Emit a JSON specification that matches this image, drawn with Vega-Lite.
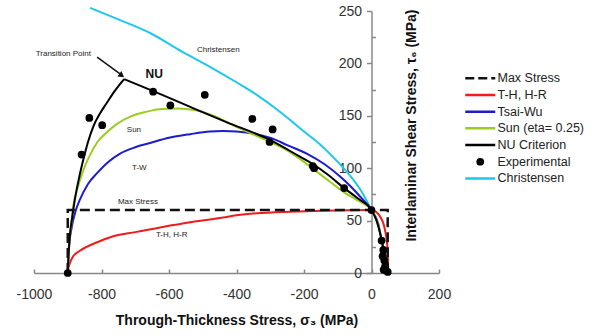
{
  "$schema": "https://vega.github.io/schema/vega-lite/v6.json",
  "width": 405,
  "height": 262,
  "autosize": "none",
  "padding": {"left": 34, "top": 11, "right": 159, "bottom": 62},
  "config": {"view": {"stroke": null}, "font": "Liberation Sans"},
  "datasets": {
    "curves": [
      {"series": "Christensen", "part": 1, "o": 1, "x": -834, "y": 253},
      {"series": "Christensen", "part": 1, "o": 2, "x": -750, "y": 242},
      {"series": "Christensen", "part": 1, "o": 3, "x": -656, "y": 229},
      {"series": "Christensen", "part": 1, "o": 4, "x": -560, "y": 211},
      {"series": "Christensen", "part": 1, "o": 5, "x": -480, "y": 197},
      {"series": "Christensen", "part": 1, "o": 6, "x": -400, "y": 182},
      {"series": "Christensen", "part": 1, "o": 7, "x": -340, "y": 170},
      {"series": "Christensen", "part": 1, "o": 8, "x": -280, "y": 156},
      {"series": "Christensen", "part": 1, "o": 9, "x": -241, "y": 146},
      {"series": "Christensen", "part": 1, "o": 10, "x": -200, "y": 135},
      {"series": "Christensen", "part": 1, "o": 11, "x": -150, "y": 122},
      {"series": "Christensen", "part": 1, "o": 12, "x": -100, "y": 106},
      {"series": "Christensen", "part": 1, "o": 13, "x": -64, "y": 93},
      {"series": "Christensen", "part": 1, "o": 14, "x": -30, "y": 78},
      {"series": "Christensen", "part": 1, "o": 15, "x": 0, "y": 60},

      {"series": "T-H, H-R", "part": 1, "o": 1, "x": -900, "y": 0},
      {"series": "T-H, H-R", "part": 1, "o": 2, "x": -899, "y": 3},
      {"series": "T-H, H-R", "part": 1, "o": 3, "x": -893, "y": 10},
      {"series": "T-H, H-R", "part": 1, "o": 4, "x": -884, "y": 16},
      {"series": "T-H, H-R", "part": 1, "o": 5, "x": -865, "y": 21},
      {"series": "T-H, H-R", "part": 1, "o": 6, "x": -844, "y": 25},
      {"series": "T-H, H-R", "part": 1, "o": 7, "x": -800, "y": 31},
      {"series": "T-H, H-R", "part": 1, "o": 8, "x": -765, "y": 35},
      {"series": "T-H, H-R", "part": 1, "o": 9, "x": -700, "y": 39},
      {"series": "T-H, H-R", "part": 1, "o": 10, "x": -666, "y": 41},
      {"series": "T-H, H-R", "part": 1, "o": 11, "x": -600, "y": 45},
      {"series": "T-H, H-R", "part": 1, "o": 12, "x": -537, "y": 48.5},
      {"series": "T-H, H-R", "part": 1, "o": 13, "x": -479, "y": 51},
      {"series": "T-H, H-R", "part": 1, "o": 14, "x": -439, "y": 53},
      {"series": "T-H, H-R", "part": 1, "o": 15, "x": -400, "y": 55},
      {"series": "T-H, H-R", "part": 1, "o": 16, "x": -340, "y": 57},
      {"series": "T-H, H-R", "part": 1, "o": 17, "x": -241, "y": 58.5},
      {"series": "T-H, H-R", "part": 1, "o": 18, "x": -143, "y": 59.4},
      {"series": "T-H, H-R", "part": 1, "o": 19, "x": 0, "y": 60},
      {"series": "T-H, H-R", "part": 1, "o": 20, "x": 25, "y": 54},
      {"series": "T-H, H-R", "part": 1, "o": 21, "x": 40, "y": 41},
      {"series": "T-H, H-R", "part": 1, "o": 22, "x": 47, "y": 25},
      {"series": "T-H, H-R", "part": 1, "o": 23, "x": 49, "y": 10},
      {"series": "T-H, H-R", "part": 1, "o": 24, "x": 50, "y": 0},

      {"series": "Tsai-Wu", "part": 1, "o": 1, "x": -900, "y": 0},
      {"series": "Tsai-Wu", "part": 1, "o": 2, "x": -898, "y": 19},
      {"series": "Tsai-Wu", "part": 1, "o": 3, "x": -888, "y": 44},
      {"series": "Tsai-Wu", "part": 1, "o": 4, "x": -876, "y": 60},
      {"series": "Tsai-Wu", "part": 1, "o": 5, "x": -864, "y": 70},
      {"series": "Tsai-Wu", "part": 1, "o": 6, "x": -840, "y": 85},
      {"series": "Tsai-Wu", "part": 1, "o": 7, "x": -814, "y": 95},
      {"series": "Tsai-Wu", "part": 1, "o": 8, "x": -780, "y": 106},
      {"series": "Tsai-Wu", "part": 1, "o": 9, "x": -745, "y": 114},
      {"series": "Tsai-Wu", "part": 1, "o": 10, "x": -700, "y": 120},
      {"series": "Tsai-Wu", "part": 1, "o": 11, "x": -656, "y": 124},
      {"series": "Tsai-Wu", "part": 1, "o": 12, "x": -600, "y": 129},
      {"series": "Tsai-Wu", "part": 1, "o": 13, "x": -537, "y": 132.5},
      {"series": "Tsai-Wu", "part": 1, "o": 14, "x": -479, "y": 135},
      {"series": "Tsai-Wu", "part": 1, "o": 15, "x": -439, "y": 135.5},
      {"series": "Tsai-Wu", "part": 1, "o": 16, "x": -400, "y": 135},
      {"series": "Tsai-Wu", "part": 1, "o": 17, "x": -360, "y": 133.5},
      {"series": "Tsai-Wu", "part": 1, "o": 18, "x": -330, "y": 131.5},
      {"series": "Tsai-Wu", "part": 1, "o": 19, "x": -291, "y": 128},
      {"series": "Tsai-Wu", "part": 1, "o": 20, "x": -250, "y": 122},
      {"series": "Tsai-Wu", "part": 1, "o": 21, "x": -192, "y": 114},
      {"series": "Tsai-Wu", "part": 1, "o": 22, "x": -140, "y": 104},
      {"series": "Tsai-Wu", "part": 1, "o": 23, "x": -93, "y": 92},
      {"series": "Tsai-Wu", "part": 1, "o": 24, "x": -60, "y": 82},
      {"series": "Tsai-Wu", "part": 1, "o": 25, "x": -34, "y": 73},
      {"series": "Tsai-Wu", "part": 1, "o": 26, "x": 0, "y": 60},
      {"series": "Tsai-Wu", "part": 1, "o": 27, "x": 20, "y": 47},
      {"series": "Tsai-Wu", "part": 1, "o": 28, "x": 30, "y": 31},
      {"series": "Tsai-Wu", "part": 1, "o": 29, "x": 40, "y": 16},
      {"series": "Tsai-Wu", "part": 1, "o": 30, "x": 47, "y": 2},

      {"series": "Sun (eta= 0.25)", "part": 1, "o": 1, "x": -900, "y": 0},
      {"series": "Sun (eta= 0.25)", "part": 1, "o": 2, "x": -896, "y": 25},
      {"series": "Sun (eta= 0.25)", "part": 1, "o": 3, "x": -890, "y": 45},
      {"series": "Sun (eta= 0.25)", "part": 1, "o": 4, "x": -884, "y": 63},
      {"series": "Sun (eta= 0.25)", "part": 1, "o": 5, "x": -870, "y": 82},
      {"series": "Sun (eta= 0.25)", "part": 1, "o": 6, "x": -854, "y": 98},
      {"series": "Sun (eta= 0.25)", "part": 1, "o": 7, "x": -835, "y": 112},
      {"series": "Sun (eta= 0.25)", "part": 1, "o": 8, "x": -814, "y": 124},
      {"series": "Sun (eta= 0.25)", "part": 1, "o": 9, "x": -785, "y": 134},
      {"series": "Sun (eta= 0.25)", "part": 1, "o": 10, "x": -755, "y": 142},
      {"series": "Sun (eta= 0.25)", "part": 1, "o": 11, "x": -710, "y": 150},
      {"series": "Sun (eta= 0.25)", "part": 1, "o": 12, "x": -666, "y": 154},
      {"series": "Sun (eta= 0.25)", "part": 1, "o": 13, "x": -620, "y": 156.5},
      {"series": "Sun (eta= 0.25)", "part": 1, "o": 14, "x": -577, "y": 157},
      {"series": "Sun (eta= 0.25)", "part": 1, "o": 15, "x": -518, "y": 155},
      {"series": "Sun (eta= 0.25)", "part": 1, "o": 16, "x": -469, "y": 150},
      {"series": "Sun (eta= 0.25)", "part": 1, "o": 17, "x": -410, "y": 141},
      {"series": "Sun (eta= 0.25)", "part": 1, "o": 18, "x": -321, "y": 128},
      {"series": "Sun (eta= 0.25)", "part": 1, "o": 19, "x": -250, "y": 117},
      {"series": "Sun (eta= 0.25)", "part": 1, "o": 20, "x": -200, "y": 106},
      {"series": "Sun (eta= 0.25)", "part": 1, "o": 21, "x": -143, "y": 92},
      {"series": "Sun (eta= 0.25)", "part": 1, "o": 22, "x": -81, "y": 77},
      {"series": "Sun (eta= 0.25)", "part": 1, "o": 23, "x": -40, "y": 69},
      {"series": "Sun (eta= 0.25)", "part": 1, "o": 24, "x": 0, "y": 60},
      {"series": "Sun (eta= 0.25)", "part": 1, "o": 25, "x": 18, "y": 48},
      {"series": "Sun (eta= 0.25)", "part": 1, "o": 26, "x": 30, "y": 32},
      {"series": "Sun (eta= 0.25)", "part": 1, "o": 27, "x": 40, "y": 17},
      {"series": "Sun (eta= 0.25)", "part": 1, "o": 28, "x": 47, "y": 3},

      {"series": "NU Criterion", "part": 1, "o": 1, "x": -900, "y": 0},
      {"series": "NU Criterion", "part": 1, "o": 2, "x": -897, "y": 20},
      {"series": "NU Criterion", "part": 1, "o": 3, "x": -893, "y": 38},
      {"series": "NU Criterion", "part": 1, "o": 4, "x": -886, "y": 55},
      {"series": "NU Criterion", "part": 1, "o": 5, "x": -879, "y": 70},
      {"series": "NU Criterion", "part": 1, "o": 6, "x": -867, "y": 90},
      {"series": "NU Criterion", "part": 1, "o": 7, "x": -854, "y": 108},
      {"series": "NU Criterion", "part": 1, "o": 8, "x": -840, "y": 125},
      {"series": "NU Criterion", "part": 1, "o": 9, "x": -824, "y": 140},
      {"series": "NU Criterion", "part": 1, "o": 10, "x": -805, "y": 152},
      {"series": "NU Criterion", "part": 1, "o": 11, "x": -785, "y": 162},
      {"series": "NU Criterion", "part": 1, "o": 12, "x": -760, "y": 174},
      {"series": "NU Criterion", "part": 1, "o": 13, "x": -733, "y": 185},
      {"series": "NU Criterion", "part": 2, "o": 13, "x": -733, "y": 185},
      {"series": "NU Criterion", "part": 2, "o": 14, "x": -650, "y": 174},
      {"series": "NU Criterion", "part": 2, "o": 15, "x": -537, "y": 158.5},
      {"series": "NU Criterion", "part": 2, "o": 16, "x": -430, "y": 144},
      {"series": "NU Criterion", "part": 2, "o": 17, "x": -301, "y": 127},
      {"series": "NU Criterion", "part": 2, "o": 18, "x": -212, "y": 111},
      {"series": "NU Criterion", "part": 2, "o": 19, "x": -174, "y": 104},
      {"series": "NU Criterion", "part": 2, "o": 20, "x": -130, "y": 94},
      {"series": "NU Criterion", "part": 2, "o": 21, "x": -81, "y": 81},
      {"series": "NU Criterion", "part": 2, "o": 22, "x": -40, "y": 71},
      {"series": "NU Criterion", "part": 2, "o": 23, "x": 0, "y": 60},
      {"series": "NU Criterion", "part": 2, "o": 24, "x": 15, "y": 50},
      {"series": "NU Criterion", "part": 2, "o": 25, "x": 27, "y": 36},
      {"series": "NU Criterion", "part": 2, "o": 26, "x": 36, "y": 22},
      {"series": "NU Criterion", "part": 2, "o": 27, "x": 43, "y": 10},
      {"series": "NU Criterion", "part": 2, "o": 28, "x": 48, "y": 0},

      {"series": "Max Stress", "part": 1, "o": 1, "x": -900, "y": 0},
      {"series": "Max Stress", "part": 1, "o": 2, "x": -900, "y": 60},
      {"series": "Max Stress", "part": 1, "o": 3, "x": 48, "y": 60},
      {"series": "Max Stress", "part": 1, "o": 4, "x": 48, "y": 0}
    ],
    "exp": [
      {"series": "Experimental", "x": -900, "y": 0},
      {"series": "Experimental", "x": -859, "y": 113},
      {"series": "Experimental", "x": -836, "y": 148},
      {"series": "Experimental", "x": -798, "y": 141},
      {"series": "Experimental", "x": -647, "y": 173},
      {"series": "Experimental", "x": -596, "y": 160},
      {"series": "Experimental", "x": -494, "y": 170},
      {"series": "Experimental", "x": -353, "y": 147},
      {"series": "Experimental", "x": -293, "y": 137},
      {"series": "Experimental", "x": -302, "y": 125},
      {"series": "Experimental", "x": -174, "y": 102},
      {"series": "Experimental", "x": -170, "y": 100},
      {"series": "Experimental", "x": -81, "y": 81},
      {"series": "Experimental", "x": 0, "y": 60},
      {"series": "Experimental", "x": 30, "y": 31},
      {"series": "Experimental", "x": 35, "y": 22},
      {"series": "Experimental", "x": 33, "y": 16},
      {"series": "Experimental", "x": 38, "y": 12},
      {"series": "Experimental", "x": 40, "y": 6},
      {"series": "Experimental", "x": 36, "y": 3},
      {"series": "Experimental", "x": 48, "y": 1}
    ],
    "labels": [
      {"text": "Christensen", "x": -454, "y": 213},
      {"text": "Transition Point", "x": -913, "y": 209},
      {"text": "Sun", "x": -704, "y": 136},
      {"text": "T-W", "x": -688, "y": 100},
      {"text": "Max Stress", "x": -692, "y": 68},
      {"text": "T-H, H-R", "x": -592, "y": 36}
    ],
    "bold": [
      {"text": "NU", "x": -644, "y": 190}
    ],
    "arrow": [
      {"x": -813, "y": 206, "x2": -745, "y2": 190}
    ],
    "head": [
      {"x": -740, "y": 188.5}
    ]
  },
  "encoding": {
    "x": {
      "field": "x", "type": "quantitative",
      "scale": {"domain": [-1000, 200], "nice": false, "zero": false},
      "axis": {
        "values": [-1000, -800, -600, -400, -200, 0, 200],
        "labelExpr": "'' + datum.value",
        "grid": false, "labelFlush": false,
        "labelFontSize": 14, "labelColor": "#333",
        "domainColor": "#888", "domainWidth": 1.5, "tickColor": "#888", "tickWidth": 1.5,
        "tickSize": -4, "labelPadding": 18,
        "title": "Through-Thickness Stress, σ₃ (MPa)",
        "titleFontSize": 14, "titleFontWeight": "bold", "titleColor": "#111",
        "titleY": 47, "titleBaseline": "middle"
      }
    },
    "y": {
      "field": "y", "type": "quantitative",
      "scale": {"domain": [0, 250], "nice": false},
      "axis": {
        "orient": "left", "offset": -337.5,
        "values": [0, 25, 50, 75, 100, 125, 150, 175, 200, 225, 250],
        "labelExpr": "datum.value % 50 === 0 ? datum.label : ''",
        "tickSize": {"condition": {"test": "datum.value % 50 === 0", "value": 5}, "value": -4},
        "grid": false,
        "labelFontSize": 14, "labelColor": "#333", "labelPadding": 5,
        "domainColor": "#888", "domainWidth": 1.5, "tickColor": "#888", "tickWidth": 1.5,
        "title": "Interlaminar Shear Stress, τ₆ (MPa)",
        "titleFontSize": 14, "titleFontWeight": "bold", "titleColor": "#111",
        "titleX": 40, "titleY": 114, "titleAngle": 270, "titleAlign": "center", "titleBaseline": "middle"
      }
    }
  },
  "layer": [
    {
      "data": {"name": "curves"},
      "transform": [{"filter": "datum.series !== 'Max Stress'"}],
      "mark": {"type": "line", "strokeWidth": 2, "interpolate": "monotone"},
      "encoding": {
        "order": {"field": "o", "type": "quantitative"},
        "detail": {"field": "part", "type": "nominal"},
        "color": {
          "field": "series", "type": "nominal",
          "scale": {
            "domain": ["Max Stress", "T-H, H-R", "Tsai-Wu", "Sun (eta= 0.25)", "NU Criterion", "Experimental", "Christensen"],
            "range": ["#111111", "#ee1c1c", "#1c1ccc", "#9acd1e", "#000000", "#000000", "#1ec8ea"]
          },
          "legend": {
            "orient": "none", "legendX": 440, "legendY": 61,
            "title": null, "padding": 0,
            "labelFontSize": 12.5, "labelColor": "#222", "labelOffset": 11,
            "symbolType": "stroke", "symbolSize": 900, "symbolStrokeWidth": 2.5,
            "rowPadding": 3.7,
            "encode": {
              "symbols": {
                "update": {
                  "shape": {"signal": "datum.value === 'Experimental' ? 'circle' : 'stroke'"},
                  "size": {"signal": "datum.value === 'Experimental' ? 60 : 900"},
                  "strokeDash": {"signal": "datum.value === 'Max Stress' ? [9, 4] : [1, 0]"},
                  "fill": {"signal": "datum.value === 'Experimental' ? '#000' : 'transparent'"},
                  "strokeWidth": {"signal": "datum.value === 'Experimental' ? 0 : 2.5"},
                  "stroke": {"scale": "color", "field": "value"}
                }
              }
            }
          }
        }
      }
    },
    {
      "data": {"name": "curves"},
      "transform": [{"filter": "datum.series === 'Max Stress'"}],
      "mark": {"type": "line", "strokeWidth": 2.5, "strokeDash": [10, 5]},
      "encoding": {
        "order": {"field": "o", "type": "quantitative"},
        "color": {"field": "series", "type": "nominal"}
      }
    },
    {
      "data": {"name": "exp"},
      "mark": {"type": "point", "filled": true, "size": 60, "opacity": 1},
      "encoding": {
        "color": {"field": "series", "type": "nominal"}
      }
    },
    {
      "data": {"name": "labels"},
      "mark": {"type": "text", "fontSize": 8, "color": "#222", "align": "center", "baseline": "middle"},
      "encoding": {"text": {"field": "text"}}
    },
    {
      "data": {"name": "bold"},
      "mark": {"type": "text", "fontSize": 12, "fontWeight": "bold", "color": "#111", "align": "center", "baseline": "middle"},
      "encoding": {"text": {"field": "text"}}
    },
    {
      "data": {"name": "arrow"},
      "mark": {"type": "rule", "color": "#111", "strokeWidth": 1.5},
      "encoding": {
        "x2": {"field": "x2"},
        "y2": {"field": "y2"}
      }
    },
    {
      "data": {"name": "head"},
      "mark": {"type": "point", "shape": "triangle-up", "angle": 127, "size": 45, "filled": true, "color": "#111", "opacity": 1},
      "encoding": {}
    }
  ]
}
